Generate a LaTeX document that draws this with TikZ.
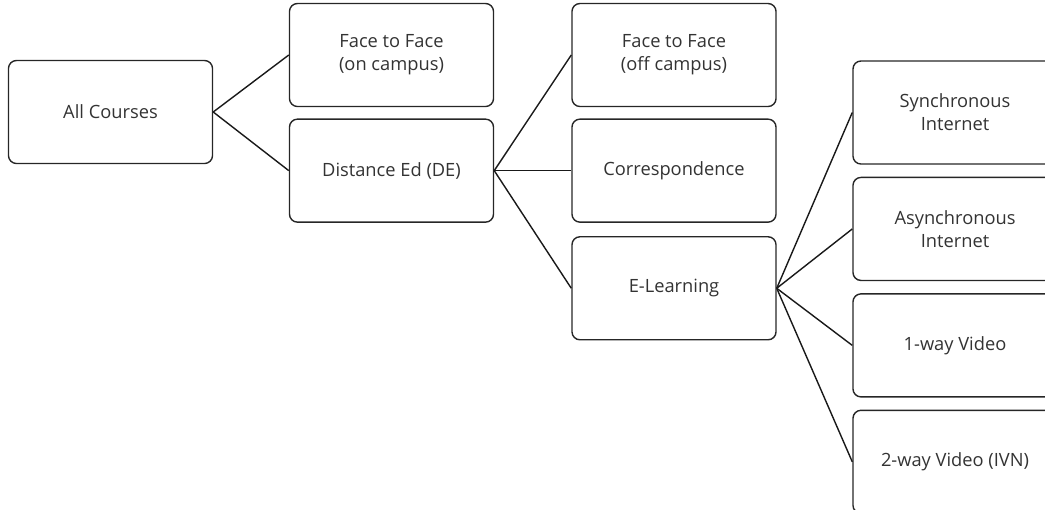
\documentclass[tikz,border=0pt]{standalone}
\usepackage{fontspec}
\setmainfont{Open Sans}
\usetikzlibrary{positioning}
\tikzset{course/.style = {rectangle, rounded corners=0.2cm, draw=black!85, line width=1pt,
    minimum width=5.1cm, minimum height=2.575cm, align=center, text=black!80,
    font=\fontsize{13}{16.5}\selectfont},
  link/.style = {draw=black!90, line width=1pt}}

\begin{document}
\begin{tikzpicture}[x=0.025cm, y=-0.025cm]
  \useasboundingbox (0,0) rectangle (1045,509);
  \clip (0,0) rectangle (1045,509);

  \node[course] (allCourses) at (110.5,112) {All Courses};

  \node[course] (f2fOn) at (391.5,55) {Face to Face\\(on campus)};
  \node[course] (distEd) [below = 0.28cm of f2fOn] {Distance Ed (DE)};

  \node[course] (f2fOff) at (674,55) {Face to Face\\(off campus)};
  \node[course] (corresp) [below = 0.28cm of f2fOff] {Correspondence};
  \node[course] (eLearn) [below = 0.33cm of corresp] {E-Learning};

  \node[course] (syncNet) at (955,112.5) {Synchronous\\Internet};
  \node[course] (asyncNet) [below = 0.3cm of syncNet] {Asynchronous\\Internet};
  \node[course] (oneVideo) [below = 0.3cm of asyncNet] {1-way Video};
  \node[course] (twoVideo) [below = 0.3cm of oneVideo] {2-way Video (IVN)};

  \draw[link] (allCourses.east) -- (f2fOn.west);
  \draw[link] (allCourses.east) -- (distEd.west);

  \draw[link] (distEd.east) -- (f2fOff.west);
  \draw[link] (distEd.east) -- (corresp.west);
  \draw[link] (distEd.east) -- (eLearn.west);

  \draw[link] (eLearn.east) -- (syncNet.west);
  \draw[link] (eLearn.east) -- (asyncNet.west);
  \draw[link] (eLearn.east) -- (oneVideo.west);
  \draw[link] (eLearn.east) -- (twoVideo.west);

\end{tikzpicture}
\end{document}
